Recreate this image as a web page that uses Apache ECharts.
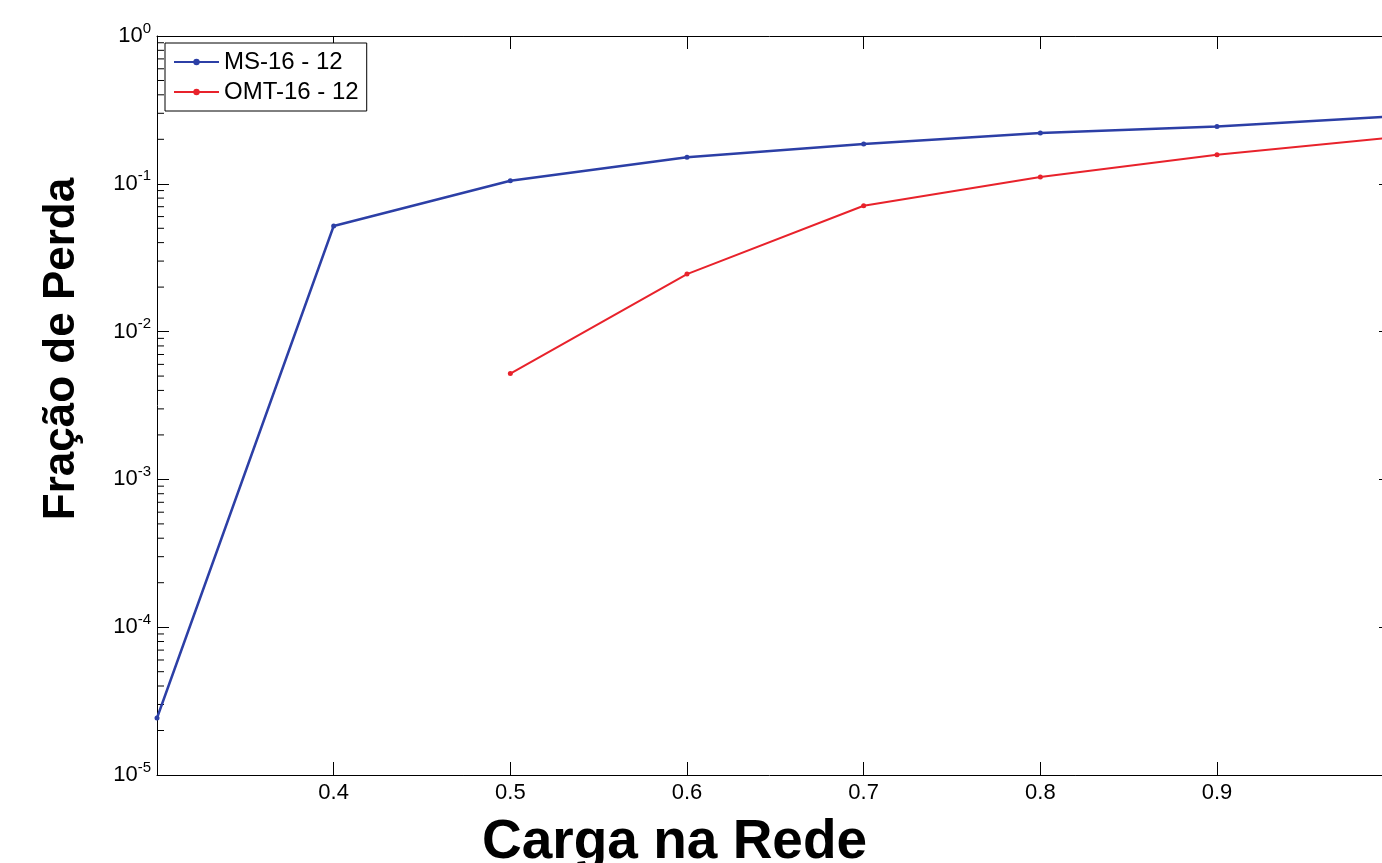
<!DOCTYPE html>
<html>
<head>
<meta charset="utf-8">
<script src="https://cdn.jsdelivr.net/npm/echarts@6/dist/echarts.min.js"></script>
<style>
    html, body { margin: 0; padding: 0; background: #fff; }
    #myChart { width: 1382px; height: 863px; }
</style>
</head>
<body>
<div id="myChart"></div>
<script>
    // dados
    let carga = [0.3, 0.4, 0.5, 0.6, 0.7, 0.8, 0.9, 1.0];
    let ms16 = [2.43e-5, 0.0518, 0.105, 0.151, 0.186, 0.221, 0.244, 0.286];
    let omt16 = [null, null, 0.0052, 0.0245, 0.071, 0.111, 0.157, 0.206];
    let nomes = ['MS-16 - 12', 'OMT-16 - 12'];
    let xTicks = [0.4, 0.5, 0.6, 0.7, 0.8, 0.9];
    let yMin = 1e-5, yMax = 1;
    // a figura original esta cortada a direita, pouco antes de 1.0
    let xMin = 0.3, xMax = 0.9934;

    let font = 'Liberation Sans, Arial, sans-serif';

    function pares(ys) {
        let arr = [];
        for (let i = 0; i < carga.length; i++) {
            if (ys[i] != null) arr.push([carga[i], ys[i]]);
        }
        return arr;
    }

    // ticks menores do eixo log (2..9 x 10^k)
    let menores = [];
    for (let k = -5; k < 0; k++) {
        for (let m = 2; m <= 9; m++) menores.push([xMin, m * Math.pow(10, k)]);
    }

    let myChart = echarts.init(document.getElementById('myChart'));

    let eixoY = {
        type: 'log',
        min: yMin,
        max: yMax,
        logBase: 10,
        splitLine: { show: false }
    };

    let eixoX = {
        type: 'value',
        min: xMin, max: xMax, interval: 0.1,
        axisLine: { show: true, onZero: false, lineStyle: { color: '#000' } },
        axisTick: { show: true, inside: true, length: 13, customValues: xTicks, lineStyle: { color: '#000' } },
        splitLine: { show: false }
    };

    myChart.setOption({
        animation: false,
        grid: { left: 157, right: 0, top: 36, bottom: 88 },
        legend: {
            left: 165, top: 43,
            orient: 'vertical',
            data: nomes,
            itemWidth: 45, itemHeight: 8,
            itemGap: 6,
            padding: [7, 8, 7, 8],
            borderColor: '#000', borderWidth: 1,
            backgroundColor: '#fff',
            textStyle: { fontFamily: font, fontSize: 24, color: '#000' }
        },
        xAxis: [Object.assign({}, eixoX, {
            position: 'bottom',
            axisLabel: {
                customValues: xTicks,
                margin: 7, fontFamily: font, fontSize: 22, color: '#000',
                formatter: function (v) { return v.toFixed(1); }
            }
        }), Object.assign({}, eixoX, {
            position: 'top',
            axisLabel: { show: false }
        })],
        yAxis: [Object.assign({}, eixoY, {
            position: 'left',
            axisLine: { show: true, lineStyle: { color: '#000', width: 1 } },
            axisTick: { show: true, inside: true, length: 12, lineStyle: { color: '#000' } },
            axisLabel: {
                margin: 6,
                formatter: function (v) {
                    return '{b|10}{s|' + Math.round(Math.log10(v)) + '}';
                },
                rich: {
                    b: { fontFamily: font, fontSize: 22, color: '#000', lineHeight: 22 },
                    s: { fontFamily: font, fontSize: 15, color: '#000', lineHeight: 15, padding: [0, 0, 15, 0] }
                }
            }
        }), Object.assign({}, eixoY, {
            position: 'right',
            axisLine: { show: false },
            axisTick: { show: true, inside: true, length: 3, lineStyle: { color: '#000' } },
            axisLabel: { show: false }
        })],
        graphic: [{
            type: 'text',
            left: 482, top: 815,
            style: { text: 'Carga na Rede', fontFamily: font, fontWeight: 'bold', fontSize: 55, fill: '#000' }
        }, {
            type: 'text',
            x: 40, y: 349,
            rotation: Math.PI / 2,
            style: {
                text: 'Fração de Perda', fontFamily: font, fontWeight: 'bold', fontSize: 44, fill: '#000',
                align: 'center', verticalAlign: 'top'
            }
        }],
        series: [{
            name: nomes[0],
            type: 'line',
            data: pares(ms16),
            symbol: 'circle', symbolSize: 5,
            color: '#2c3fa6',
            lineStyle: { width: 2.5 }
        }, {
            name: nomes[1],
            type: 'line',
            data: pares(omt16),
            symbol: 'circle', symbolSize: 5,
            color: '#e8222b',
            lineStyle: { width: 2 }
        }, {
            type: 'custom',
            silent: true,
            data: menores,
            renderItem: function (params, api) {
                let p = api.coord([api.value(0), api.value(1)]);
                return {
                    type: 'line',
                    shape: { x1: p[0], y1: p[1], x2: p[0] + 7, y2: p[1] },
                    style: { stroke: '#000', lineWidth: 1 }
                };
            }
        }]
    });

    window.addEventListener('resize', function () {
        myChart.resize();
    });
</script>
</body>
</html>
